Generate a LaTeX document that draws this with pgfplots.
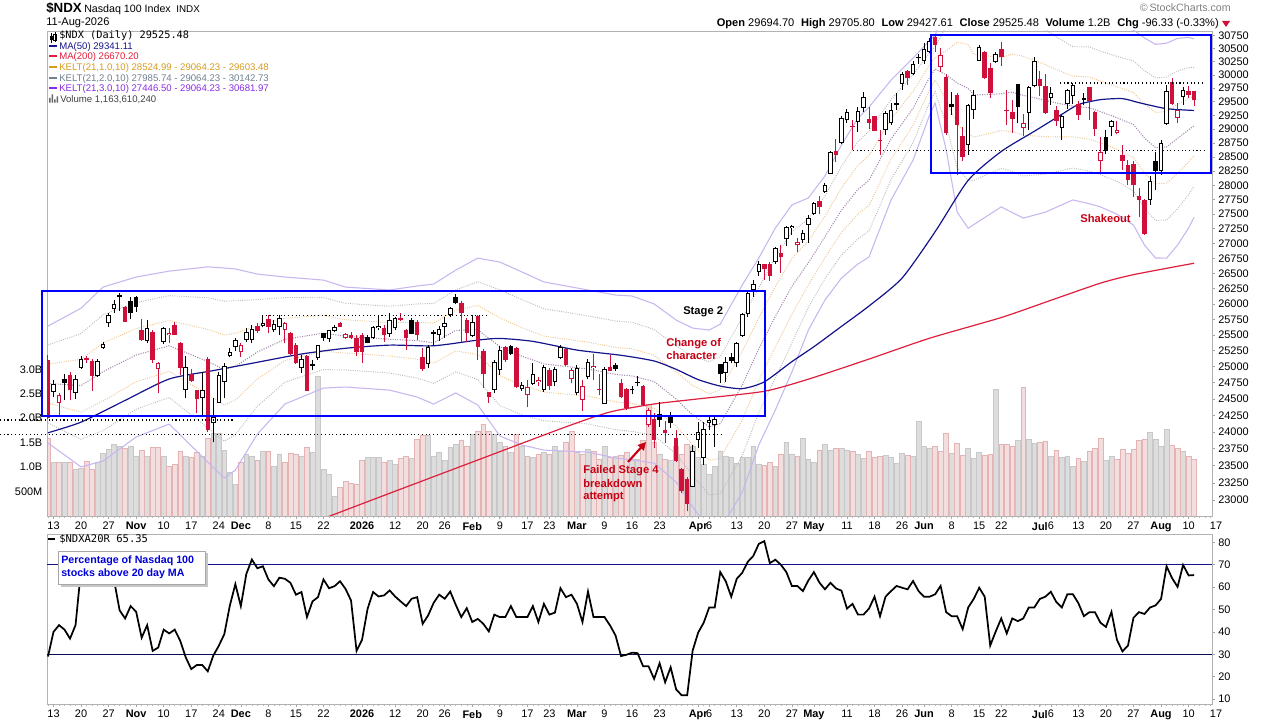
\documentclass[border=0pt]{standalone}
\usepackage{fontspec}
\setmainfont{Liberation Sans}
\newfontfamily\monofont{DejaVu Sans Mono}
\usepackage{pgfplots}
\usepackage{pgfplotstable}
\pgfplotsset{compat=1.18}
\usetikzlibrary{arrows.meta}
\definecolor{cred}{RGB}{206,16,58}
\definecolor{navyma}{RGB}{20,20,140}
\definecolor{ma200}{RGB}{222,30,60}
\definecolor{k1col}{RGB}{236,196,140}
\definecolor{k2col}{RGB}{185,185,185}
\definecolor{k3col}{RGB}{200,182,240}
\definecolor{midcol}{RGB}{165,135,175}
\definecolor{volgray}{RGB}{221,221,221}
\definecolor{volgrayE}{RGB}{200,200,200}
\definecolor{volpink}{RGB}{242,222,222}
\definecolor{volpinkE}{RGB}{228,180,180}
\definecolor{annred}{RGB}{200,0,20}
\definecolor{boxblue}{RGB}{0,0,255}
\definecolor{k1txt}{RGB}{214,155,30}
\definecolor{k2txt}{RGB}{112,128,144}
\definecolor{k3txt}{RGB}{138,43,226}

\pgfplotstableread{
i O H L C V t
0 25105 25179 24192 24207 1.58 3
1 24613 24793 24527 24732 1.09 0
2 24435 24588 24242 24562 1.09 2
3 24809 24887 24486 24743 1.09 1
4 24871 24922 24486 24639 1.09 3
5 24588 24871 24497 24809 0.96 0
6 24975 25168 24960 25121 0.98 0
7 25137 25168 25063 25105 1.11 3
8 25094 25116 24628 24855 0.96 3
9 24855 25116 24844 25094 1.09 0
10 25289 25393 25273 25352 1.28 0
11 25687 25848 25633 25821 1.37 0
12 25913 26064 25848 25994 1.47 0
13 26146 26173 25890 26108 1.42 1
14 25956 25967 25713 25713 1.38 3
15 26048 26118 25751 25848 1.42 1
16 26118 26129 25874 25956 1.23 1
17 25580 25751 25409 25420 1.35 3
18 25409 25740 25368 25607 1.23 0
19 25553 25580 25053 25105 1.40 3
20 24960 25078 24588 25053 1.40 2
21 25393 25623 25357 25607 1.22 0
22 25500 25607 25368 25537 1.01 2
23 25660 25713 25500 25500 1.06 3
24 25377 25393 24871 24975 1.32 3
25 24639 25168 24511 24991 1.23 0
26 24882 24960 24767 24783 1.19 3
27 24639 24639 24282 24497 1.31 3
28 24511 24922 24257 24639 1.22 0
29 25121 25147 24006 24031 1.58 3
30 24132 24511 23847 24222 1.69 0
31 24444 24922 24444 24871 1.69 0
32 24767 25053 24511 25011 1.34 0
33 25168 25289 25158 25236 0.89 0
34 25305 25446 25251 25420 0.65 0
35 25226 25368 25158 25341 1.09 2
36 25420 25607 25393 25553 1.27 0
37 25420 25660 25368 25591 1.23 0
38 25644 25697 25527 25569 1.13 3
39 25644 25821 25623 25697 1.32 0
40 25751 25821 25527 25633 1.32 3
41 25580 25740 25553 25676 1.01 0
42 25623 25821 25500 25767 1.27 0
43 25580 25713 25368 25687 1.09 2
44 25537 25553 25184 25200 1.29 3
45 25341 25368 25042 25053 1.27 3
46 24975 25184 24907 25116 1.23 0
47 25168 25184 24628 24628 1.40 3
48 25038 25105 24949 25016 1.30 1
49 25132 25341 25105 25341 2.85 0
50 25527 25537 25409 25446 0.96 1
51 25431 25580 25393 25580 0.85 0
52 25569 25660 25553 25633 0.40 0
53 25697 25713 25625 25625 0.58 3
54 25446 25537 25436 25516 0.71 2
55 25500 25553 25436 25446 0.67 3
56 25446 25500 25168 25236 0.65 3
57 25500 25527 25063 25226 1.13 3
58 25462 25500 25368 25368 1.19 1
59 25446 25644 25436 25623 1.19 0
60 25607 25821 25580 25644 1.19 0
61 25607 25660 25393 25500 1.10 3
62 25516 25848 25473 25740 1.13 0
63 25607 25784 25580 25767 1.06 0
64 25767 25858 25729 25740 1.18 3
65 25580 25591 25262 25446 1.23 3
66 25740 25767 25516 25516 1.18 1
67 25713 25740 25420 25500 1.57 3
68 25147 25289 24939 24960 1.64 3
69 25042 25341 24975 25315 1.64 0
70 25543 25580 25341 25516 1.23 1
71 25500 25644 25409 25591 1.31 0
72 25623 25784 25446 25697 1.13 0
73 25821 25956 25784 25929 1.40 0
74 26118 26162 25999 26010 1.47 1
75 26021 26053 25393 25858 1.54 3
76 25740 25767 25393 25527 1.43 3
77 25484 25821 25462 25713 1.67 0
78 25805 25821 25105 25315 1.74 3
79 25251 25273 24665 24887 1.88 3
80 24603 24603 24444 24535 1.74 3
81 24639 25105 24598 25078 1.67 0
82 24955 25330 24871 25268 1.50 0
83 25315 25330 25078 25105 1.43 3
84 25330 25341 25184 25200 1.30 1
85 25289 25315 24665 24680 1.67 3
86 24649 24767 24628 24716 1.43 0
87 24562 24793 24374 24690 1.23 2
88 24732 25053 24716 24882 1.20 0
89 24757 24844 24701 24793 1.26 2
90 24639 25027 24613 25000 1.30 0
91 24949 24975 24639 24701 1.26 3
92 24767 24991 24701 24960 1.43 0
93 25132 25341 25116 25315 1.33 0
94 25273 25289 25011 25027 1.50 3
95 24804 24975 24743 24949 1.74 2
96 24588 25027 24562 24975 1.30 0
97 24486 24793 24322 24701 1.26 2
98 24835 25116 24804 25078 1.37 0
99 24975 25200 24793 25011 1.33 2
100 24655 24887 24562 24639 1.16 3
101 24424 24991 24424 24960 1.43 0
102 24991 25184 24939 24939 1.20 3
103 25027 25053 24939 24960 1.23 1
104 24752 24804 24511 24527 1.24 3
105 24649 24665 24333 24359 1.30 3
106 24655 24701 24577 24639 1.16 1
107 24743 24855 24701 24767 1.16 0
108 24701 24716 24394 24409 1.54 3
109 24106 24359 24081 24333 2.29 2
110 24192 24282 23758 23881 1.50 3
111 24272 24459 24081 24182 1.27 1
112 24031 24172 23841 23991 1.16 3
113 24222 24306 24056 24141 1.13 1
114 23906 24031 23560 23575 1.43 3
115 23449 23463 23104 23128 1.27 3
116 23302 23340 22840 22946 1.47 3
117 23196 23807 23186 23723 1.43 0
118 23881 24157 23758 24006 1.20 0
119 23617 24157 23512 24041 1.06 0
120 24141 24257 24031 24182 0.85 0
121 24106 24242 23772 24192 1.02 0
122 25042 25042 24742 24887 1.33 1
123 24907 25158 24767 25078 1.22 0
124 25158 25210 25053 25094 1.20 1
125 25053 25393 24991 25368 1.08 0
126 25484 25858 25473 25837 1.20 0
127 25837 26200 25794 26184 1.20 0
128 26227 26392 26109 26321 1.43 0
129 26529 26707 26458 26657 1.06 0
130 26657 26657 26392 26568 1.04 3
131 26657 26695 26380 26458 1.09 3
132 26695 26946 26657 26920 1.02 0
133 26846 26975 26512 26768 1.27 3
134 27071 27297 26958 27285 1.50 0
135 27258 27314 27144 27297 1.27 0
136 26975 27088 26863 27031 1.23 2
137 27059 27229 27014 27183 1.58 0
138 27314 27485 27014 27428 1.16 0
139 27502 27716 27485 27687 1.09 0
140 27733 27814 27502 27630 1.35 3
141 27877 28045 27866 28005 1.47 0
142 28205 28612 28193 28583 1.35 0
143 28612 28821 28416 28535 1.39 3
144 28744 29233 28732 29209 1.39 0
145 29165 29362 29108 29318 1.35 0
146 29057 29165 28625 29045 1.32 3
147 29135 29410 28955 29337 1.26 0
148 29395 29688 29318 29596 1.18 0
149 29189 29406 29002 29110 1.32 3
150 29233 29233 28973 28973 1.20 3
151 28798 28991 28540 28787 1.22 3
152 28991 29330 28903 29299 1.24 0
153 29110 29480 29078 29355 1.20 0
154 29467 29663 29355 29449 1.07 1
155 29834 30055 29724 30023 1.28 0
156 30083 30101 29816 29943 1.24 3
157 30010 30261 29998 30211 1.22 0
158 30323 30386 30211 30311 1.93 1
159 30270 30605 30211 30494 1.42 0
160 30435 30698 30416 30636 1.38 0
161 30712 30775 30435 30558 1.42 3
162 30155 30509 30063 30378 1.32 2
163 29962 30025 28903 28934 1.69 3
164 29467 29682 29262 29404 1.28 1
165 29619 29663 28187 29068 1.48 3
166 28870 29034 28424 28494 1.24 3
167 28708 29458 28540 29434 1.38 0
168 29355 29724 29189 29619 1.18 0
169 30270 30557 30261 30526 1.30 0
170 30435 30460 29931 29944 1.24 3
171 30137 30217 29570 29663 1.26 3
172 30245 30430 30226 30393 2.59 0
173 30494 30622 30168 30332 1.46 3
174 29355 29724 29078 29337 1.46 3
175 29312 29541 28934 29189 1.42 3
176 29829 29829 29110 29414 1.54 1
177 29021 29275 28870 29110 2.63 2
178 29299 29798 28991 29766 1.56 0
179 29784 30336 29766 30261 1.48 0
180 29916 30071 29616 29784 1.50 3
181 29784 30010 29275 29299 1.52 3
182 29570 29766 29449 29663 1.22 0
183 29355 29420 29050 29152 1.34 3
184 29021 29275 28798 29233 1.20 0
185 29458 29742 29373 29724 1.22 0
186 29611 29858 29458 29816 1.01 0
187 29458 29518 29170 29252 1.18 3
188 29570 29663 29434 29537 1.11 1
189 29766 29766 29170 29509 1.32 3
190 29312 29330 28870 29008 1.38 3
191 28435 28857 28216 28589 1.58 2
192 28857 28991 28553 28600 1.13 1
193 29034 29170 28870 29142 1.22 0
194 28934 29152 28911 28980 1.15 2
195 28540 28708 28274 28435 1.36 3
196 28363 28452 28011 28098 1.28 3
197 28376 28435 27796 28011 1.36 3
198 27808 27953 27450 27750 1.54 3
199 27752 27770 27150 27161 1.56 3
200 27750 28158 27664 28081 1.71 0
201 28435 28589 27923 28257 1.56 1
202 28257 28814 28187 28756 1.42 0
203 29092 29807 29080 29706 1.77 0
204 29859 29950 29434 29458 1.44 3
205 29209 29480 29110 29355 1.38 2
206 29587 29766 29449 29718 1.32 0
207 29706 29785 29564 29621.81 1.22 3
208 29694.70 29705.80 29427.61 29525.48 1.16 3
}\ohlc

\pgfplotstableread{
i mid k1u k1l k2u k2l k3u k3l
0 24740 25041 24439 25342 24138 25643 23837
6 24708 25116 24300 25524 23892 25932 23484
10 24924 25375 24473 25826 24022 26277 23571
16 25184 25603 24765 26022 24346 26441 23927
22 25330 25733 24927 26136 24524 26539 24121
29 25082 25591 24573 26100 24064 26609 23555
32 24956 25501 24411 26046 23866 26591 23321
34 25006 25529 24483 26052 23960 26575 23437
38 25231 25651 24811 26071 24391 26491 23971
43 25433 25769 25097 26105 24761 26441 24425
50 25530 25817 25243 26104 24956 26391 24669
54 25480 25745 25215 26010 24950 26275 24685
62 25433 25698 25168 25963 24903 26228 24638
67 25412 25706 25118 26000 24824 26294 24530
70 25375 25692 25058 26009 24741 26326 24424
74 25575 25902 25248 26229 24921 26556 24594
78 25583 25974 25192 26365 24801 26756 24410
82 25316 25774 24858 26232 24400 26690 23942
86 25166 25619 24713 26072 24260 26525 23807
90 25046 25484 24608 25922 24170 26360 23732
98 24965 25386 24544 25807 24123 26228 23702
103 24880 25302 24458 25724 24036 26146 23614
106 24858 25282 24434 25706 24010 26130 23586
110 24770 25180 24360 25590 23950 26000 23540
114 24502 24915 24089 25328 23676 25741 23263
117 24258 24709 23807 25160 23356 25611 22905
120 24079 24579 23579 25079 23079 25579 22579
122 24126 24642 23610 25158 23094 25674 22578
126 24714 25246 24182 25778 23650 26310 23118
129 25282 25774 24790 26266 24298 26758 23806
132 25798 26286 25310 26774 24822 27262 24334
135 26288 26745 25831 27202 25374 27659 24917
138 26680 27047 26313 27414 25946 27781 25579
141 27114 27464 26764 27814 26414 28164 26064
144 27570 27952 27188 28334 26806 28716 26424
147 27930 28354 27506 28778 27082 29202 26658
149 28089 28527 27651 28965 27213 29403 26775
153 28824 29184 28464 29544 28104 29904 27744
157 29382 29694 29070 30006 28758 30318 28446
160 29956 30189 29723 30422 29490 30655 29257
161 30113 30325 29901 30537 29689 30749 29477
163 30000 30456 29544 30912 29088 31368 28632
165 29850 30621 29079 31392 28308 32163 27537
167 29750 30580 28920 31410 28090 32240 27260
168 29625 30393 28857 31161 28089 31929 27321
173 29650 30325 28975 31000 28300 31675 27625
175 29680 30397 28963 31114 28246 31831 27529
177 29620 30349 28891 31078 28162 31807 27433
181 29530 30195 28865 30860 28200 31525 27535
183 29480 30100 28860 30720 28240 31340 27620
186 29420 29978 28862 30536 28304 31094 27746
189 29390 29960 28820 30530 28250 31100 27680
191 29320 29885 28755 30450 28190 31015 27625
194 29210 29780 28640 30350 28070 30920 27500
197 29083 29673 28493 30263 27903 30853 27313
199 28838 29459 28217 30080 27596 30701 26975
201 28669 29306 28032 29943 27395 30580 26758
203 28679 29320 28038 29961 27397 30602 26756
205 28834 29454 28214 30074 27594 30694 26974
207 28988 29563 28413 30138 27838 30713 27263
208 29064.23 29603.48 28524.99 30142.73 27985.74 30681.97 27446.50
}\kelt

\pgfplotstableread{
i ma
48 22680
62 23100
78 23585
94 24080
102 24303
110 24425
118 24503
130 24620
138 24806
149 25120
160 25450
173 25780
182 26060
191 26340
197 26480
208 26670.2
}\mattwo

\pgfplotstableread{
i ma
0 23990
6 24150
14 24480
22 24810
30 24940
38 25070
46 25200
54 25290
62 25340
70 25330
78 25420
82 25446
88 25400
96 25262
104 25180
110 25090
114 24960
118 24800
122 24700
126 24660
130 24765
135 25080
139 25315
144 25639
149 25967
155 26424
161 27200
167 28089
173 28600
179 28963
184 29270
187 29450
191 29540
195 29560
198 29485
203 29375
208 29341.11
}\mafifty

\pgfplotstableread{
i v
0 29
1 40
2 43
3 41
4 37
5 43
6 68
7 72
8 74
9 73
10 71
11 67
12 63
13 49.6
14 46
15 51.5
16 49
17 37.4
18 43
19 31.5
20 33
21 41
22 39.3
23 41
24 36
25 28.6
26 23.4
27 25.2
28 25.2
29 22.4
30 29.4
31 33.8
32 39
33 51.7
34 61.3
35 51.5
36 65.9
37 72.3
38 68.4
39 69.3
40 63.4
41 60.4
42 64.2
43 63.7
44 61.9
45 56.6
46 57.8
47 46.6
48 53.6
49 55.5
50 63.4
51 59.5
52 60.4
53 62.6
54 59.2
55 54
56 31.5
57 36.5
58 50.3
59 57.8
60 55.8
61 56.3
62 58.5
63 55.8
64 53.6
65 51.5
66 54.8
67 55.5
68 43.6
69 47.4
70 53
71 56.6
72 54.8
73 58
74 52.1
75 46.6
76 50.6
77 44.4
78 45.8
79 43.6
80 40.2
81 47.7
82 46.6
83 46.6
84 51.5
85 46.6
86 46.6
87 46.6
88 51.5
89 44.4
90 52.5
91 47.7
92 48.6
93 59.5
94 55.5
95 56.6
96 52.5
97 44.4
98 58
99 46.6
100 46.6
101 46.6
102 42.9
103 38.4
104 29.2
105 29.8
106 30.7
107 30.5
108 24.7
109 24.6
110 19
111 26
112 17.5
113 24.2
114 14.3
115 11.7
116 11.7
117 31.7
118 39.7
119 44.1
120 50.9
121 50.9
122 66.7
123 62.6
124 55.7
125 63.7
126 66.4
127 71.3
128 73.9
129 79.3
130 80.5
131 70.7
132 72.2
133 70
134 66.7
135 60.5
136 60.5
137 58.2
138 63
139 66.7
140 62
141 59
142 61.9
143 59.4
144 58.4
145 50.4
146 52.5
147 47.7
148 47.7
149 50.4
150 55.7
151 47
152 55.7
153 58.2
154 60.5
155 59.7
156 59
157 62.7
158 58.2
159 55.7
160 55.7
161 56.8
162 60.5
163 48.8
164 47
165 47
166 41.2
167 50.9
168 54.7
169 59.7
170 55.7
171 33.9
172 40.2
173 46
174 39.3
175 46
176 44.8
177 46
178 50.9
179 50.9
180 54.7
181 55.7
182 57.9
183 53.3
184 50.9
185 56.8
186 56.8
187 52.8
188 47
189 48.8
190 48.8
191 44.1
192 42.2
193 48.9
194 36.4
195 31.3
196 33.9
197 46.3
198 48.8
199 48
200 50.9
201 51.8
202 54.7
203 69.3
204 64
205 60.1
206 69.9
207 65.2
208 65.35
}\breadth

\pgfplotsset{
  candlebar/.style 2 args={draw=none, mark=none, forget plot,
    error bars/y dir=plus, error bars/y explicit, error bars/error mark=none,
    error bars/error bar style={line width=#2, draw=#1, color=#1, line cap=butt}},
  datex/.style={xmin=-0.18, xmax=211.25,
    xtick={1,6,11,16,21,26,31,35,40,45,50,57,63,68,72,77,82,87,91,96,101,106,111,118,120,125,130,135,139,145,150,155,159,164,169,173,180,182,187,192,197,202,207},
    xticklabels={13,20,27,\textbf{Nov},10,17,24,\textbf{Dec},8,15,22,\textbf{2026},12,20,26,\textbf{Feb},9,17,23,\textbf{Mar},9,16,23,\textbf{Apr},6,13,20,27,\textbf{May},11,18,26,\textbf{Jun},8,15,22,\textbf{Jul},6,13,20,27,\textbf{Aug},10},
    minor xtick={0,1,...,211},
    xtick pos=bottom, tick align=outside,
    major tick length=2.2pt, minor tick length=1.5pt,
    tick style={draw=gray!70, line width=0.5pt},
    minor tick style={draw=gray!55, line width=0.4pt},
    xticklabel style={font=\fontsize{8.2}{9}\selectfont, yshift=1pt}},
}

\begin{document}
\begin{tikzpicture}[x=0.75pt,y=0.75pt]
\useasboundingbox (0,0) rectangle (1280,720);

% ---------- volume (behind) ----------
\begin{axis}[at={(35.25pt,153pt)}, anchor=south west, scale only axis,
  width=873.75pt, height=363.75pt,
  xmin=-0.18, xmax=211.25, ymin=0, ymax=9.92,
  axis line style={draw=none}, xtick=\empty,
  ytick={0.5,1,1.5,2,2.5,3}, yticklabels={500M,1.0B,1.5B,2.0B,2.5B,3.0B},
  ytick pos=left, major tick length=0pt,
  yticklabel style={font=\fontsize{8.2}{9}\selectfont}]
\addplot[ybar, bar width=3.6pt, bar shift=0pt, fill=volgray, draw=volgrayE, line width=0.5pt,
  restrict expr to domain={\thisrow{t}}{-0.5:1.5}] table[x=i,y=V]{\ohlc};
\addplot[ybar, bar width=3.6pt, bar shift=0pt, fill=volpink, draw=volpinkE, line width=0.5pt,
  restrict expr to domain={\thisrow{t}}{1.5:3.5}] table[x=i,y=V]{\ohlc};
\end{axis}

% ---------- price (log scale: y = ln(price)) ----------
\begin{axis}[at={(35.25pt,153pt)}, anchor=south west, scale only axis,
  width=873.75pt, height=363.75pt, datex,
  ymin=10.033374, ymax=10.336340,
  axis line style={draw=gray!60, line width=0.6pt},
  ytick={10.043249,10.054060,10.064755,10.075340,10.085809,10.096172,10.106428,10.116580,10.126631,10.136581,10.146433,10.156189,10.165851,10.175421,10.184900,10.194290,10.203592,10.212808,10.221941,10.230991,10.239959,10.248848,10.257659,10.266393,10.275051,10.283634,10.292145,10.300584,10.308953,10.317251,10.325482,10.333645},
  yticklabels={23000,23250,23500,23750,24000,24250,24500,24750,25000,25250,25500,25750,26000,26250,26500,26750,27000,27250,27500,27750,28000,28250,28500,28750,29000,29250,29500,29750,30000,30250,30500,30750},
  yminorticks=false, ytick pos=right, yticklabel pos=right,
  scaled y ticks=false,
  yticklabel style={font=\fontsize{8.2}{9}\selectfont, xshift=-1pt}]
% Keltner channels
\addplot[k3col, line width=0.8pt] table[x=i,y expr=ln(\thisrow{k3u})]{\kelt};
\addplot[k3col, line width=0.8pt] table[x=i,y expr=ln(\thisrow{k3l})]{\kelt};
\addplot[k2col, densely dotted, line width=0.7pt] table[x=i,y expr=ln(\thisrow{k2u})]{\kelt};
\addplot[k2col, densely dotted, line width=0.7pt] table[x=i,y expr=ln(\thisrow{k2l})]{\kelt};
\addplot[k1col, densely dotted, line width=0.7pt] table[x=i,y expr=ln(\thisrow{k1u})]{\kelt};
\addplot[k1col, densely dotted, line width=0.7pt] table[x=i,y expr=ln(\thisrow{k1l})]{\kelt};
\addplot[midcol, densely dotted, line width=0.8pt] table[x=i,y expr=ln(\thisrow{mid})]{\kelt};
% moving averages
\addplot[ma200, line width=0.9pt, smooth, tension=0.4] table[x=i,y expr=ln(\thisrow{ma})]{\mattwo};
\addplot[navyma, line width=0.9pt, smooth, tension=0.4] table[x=i,y expr=ln(\thisrow{ma})]{\mafifty};
% wicks
\addplot[restrict expr to domain={\thisrow{t}}{-0.5:1.5}, candlebar={black}{0.75pt}] table[x=i, y expr=ln(\thisrow{L}), y error expr=ln(\thisrow{H})-ln(\thisrow{L})]{\ohlc};
\addplot[restrict expr to domain={\thisrow{t}}{1.5:3.5}, candlebar={cred}{0.75pt}] table[x=i, y expr=ln(\thisrow{L}), y error expr=ln(\thisrow{H})-ln(\thisrow{L})]{\ohlc};
% bodies: outline / fill
\addplot[restrict expr to domain={\thisrow{t}}{-0.5:1.5}, candlebar={black}{3.4pt}] table[x=i, y expr={ln(min(\thisrow{O},\thisrow{C}))}, y error expr={max(abs(ln(\thisrow{C})-ln(\thisrow{O})),0.0007)}]{\ohlc};
\addplot[restrict expr to domain={\thisrow{t}}{1.5:3.5}, candlebar={cred}{3.4pt}] table[x=i, y expr={ln(min(\thisrow{O},\thisrow{C}))}, y error expr={max(abs(ln(\thisrow{C})-ln(\thisrow{O})),0.0007)}]{\ohlc};
% hollow interiors (t=0 and t=2)
\addplot[restrict expr to domain={\thisrow{t}}{-0.5:0.5}, candlebar={white}{1.9pt}] table[x=i, y expr={ln(min(\thisrow{O},\thisrow{C}))+0.00065}, y error expr={max(abs(ln(\thisrow{C})-ln(\thisrow{O}))-0.0013,0)}]{\ohlc};
\addplot[restrict expr to domain={\thisrow{t}}{1.5:2.5}, candlebar={white}{1.9pt}] table[x=i, y expr={ln(min(\thisrow{O},\thisrow{C}))+0.00065}, y error expr={max(abs(ln(\thisrow{C})-ln(\thisrow{O}))-0.0013,0)}]{\ohlc};
\end{axis}

% ---------- lower panel ----------
\begin{axis}[at={(35.25pt,12pt)}, anchor=south west, scale only axis,
  width=873.75pt, height=127.5pt, datex,
  ymin=7.8, ymax=83.7, ytick={10,20,30,40,50,60,70,80},
  yticklabels={10,20,30,40,50,60,70,80},
  ytick pos=right, yticklabel pos=right, yminorticks=false,
  axis line style={draw=gray!60, line width=0.6pt},
  yticklabel style={font=\fontsize{8.2}{9}\selectfont, xshift=-1pt}]
\addplot[navyma, line width=0.8pt] coordinates {(-1,70) (212,70)};
\addplot[navyma!60!black, line width=0.8pt] coordinates {(-1,30) (212,30)};
\addplot[black, line width=1.3pt] table[x=i,y=v]{\breadth};
\end{axis}

% date label just beyond the plotted range
\node[font=\fontsize{8.2}{9}\selectfont, anchor=base] at (1216,190.5) {17};
\node[font=\fontsize{8.2}{9}\selectfont, anchor=base] at (1216,2.5) {17};

% ---------- annotations ----------
\draw[black, dotted, line width=0.8pt] (0,300) -- (233,300);
\draw[black, dotted, line width=0.8pt] (0,285.7) -- (722,285.7);
\draw[black, dotted, line width=0.8pt] (262,404.7) -- (487,404.7);
\draw[black, dotted, line width=0.8pt] (1060,637) -- (1205,637);
\draw[black, dotted, line width=0.8pt] (853,569.5) -- (1205,569.5);
\draw[boxblue, line width=1.9pt] (42,429) rectangle (765,304);
\draw[boxblue, line width=1.9pt] (931,685) rectangle (1211,547);

\node[anchor=base west, inner sep=0, font=\fontsize{8.4}{9}\selectfont\bfseries] at (683,405) {Stage 2};
\node[anchor=base west, inner sep=0, font=\fontsize{8.4}{9}\selectfont\bfseries, text=annred] at (666,373.3) {Change of};
\node[anchor=base west, inner sep=0, font=\fontsize{8.4}{9}\selectfont\bfseries, text=annred] at (666,360.7) {character};
\node[anchor=base west, inner sep=0, font=\fontsize{8.4}{9}\selectfont\bfseries, text=annred] at (583,246) {Failed Stage 4};
\node[anchor=base west, inner sep=0, font=\fontsize{8.4}{9}\selectfont\bfseries, text=annred] at (583,232.7) {breakdown};
\node[anchor=base west, inner sep=0, font=\fontsize{8.4}{9}\selectfont\bfseries, text=annred] at (583,220) {attempt};
\node[anchor=base west, inner sep=0, font=\fontsize{8.4}{9}\selectfont\bfseries, text=annred] at (1080,497) {Shakeout};
\draw[annred, line width=1.6pt, -{Triangle[length=6pt,width=6pt]}] (628,258) -- (646,278);

% header
\node[anchor=base west, inner sep=0, font=\fontsize{10}{12}\selectfont\bfseries] at (46,707) {\$NDX};
\node[anchor=base west, inner sep=0, font=\fontsize{8}{9}\selectfont] at (84,707) {Nasdaq 100 Index};
\node[anchor=base west, inner sep=0, font=\fontsize{7.4}{9}\selectfont] at (176,707) {INDX};
\node[anchor=base west, inner sep=0, font=\fontsize{8.3}{9}\selectfont] at (46,694) {11-Aug-2026};
\node[anchor=base east, inner sep=0, font=\fontsize{8}{9}\selectfont, text=gray] at (1231,708) {\textcopyright\,StockCharts.com};
\node[anchor=base east, inner sep=0, font=\fontsize{8.3}{9}\selectfont] at (1219,693)
  {\textbf{Open} 29694.70\hspace{5pt}\textbf{High} 29705.80\hspace{5pt}\textbf{Low} 29427.61\hspace{5pt}\textbf{Close} 29525.48\hspace{5pt}\textbf{Volume} 1.2B\hspace{5pt}\textbf{Chg} -96.33 (-0.33\%)};
\fill[cred] (1222,699) -- (1230,699) -- (1226,693) -- cycle;

% legend main
\draw[black, line width=0.6pt] (51,677) -- (51,687); \fill[black] (50,679.5) rectangle (52.5,684);
\draw[black, line width=0.6pt] (55,678) -- (55,688); \draw[black, line width=0.5pt] (53.8,680) rectangle (56.3,685.5);
\node[anchor=base west, inner sep=0, font=\monofont\fontsize{7.7}{9}\selectfont] at (59,681.7) {\$NDX (Daily) 29525.48};
\draw[navyma, line width=1.5pt] (49,674.2) -- (57,674.2);
\node[anchor=base west, inner sep=0, font=\fontsize{7.2}{9}\selectfont, text=navyma] at (59,670.7) {MA(50) 29341.11};
\draw[ma200, line width=1.5pt] (49,663.5) -- (57,663.5);
\node[anchor=base west, inner sep=0, font=\fontsize{7.2}{9}\selectfont, text=ma200] at (59,660) {MA(200) 26670.20};
\draw[k1txt, line width=1.5pt] (49,652.8) -- (57,652.8);
\node[anchor=base west, inner sep=0, font=\fontsize{7.2}{9}\selectfont, text=k1txt] at (59,649.3) {KELT(21,1.0,10) 28524.99 - 29064.23 - 29603.48};
\draw[k2txt, line width=1.5pt] (49,642.2) -- (57,642.2);
\node[anchor=base west, inner sep=0, font=\fontsize{7.2}{9}\selectfont, text=k2txt] at (59,638.7) {KELT(21,2.0,10) 27985.74 - 29064.23 - 30142.73};
\draw[k3txt, line width=1.5pt] (49,631.5) -- (57,631.5);
\node[anchor=base west, inner sep=0, font=\fontsize{7.2}{9}\selectfont, text=k3txt] at (59,628) {KELT(21,3.0,10) 27446.50 - 29064.23 - 30681.97};
\fill[gray!80!black] (49,617.3) rectangle (50.6,622) (51.5,617.3) rectangle (53.1,625.5) (54,617.3) rectangle (55.6,620.5) (56.5,617.3) rectangle (58.1,623.5);
\node[anchor=base west, inner sep=0, font=\fontsize{7.2}{9}\selectfont, text=black!75] at (60,617.3) {Volume 1,163,610,240};

% legend lower
\draw[black, line width=1.5pt] (48,180.5) -- (55,180.5);
\node[anchor=base west, inner sep=0, font=\monofont\fontsize{7.9}{9}\selectfont] at (59,177) {\$NDXA20R 65.35};
\fill[gray!45] (60.5,133) rectangle (207.5,166.5);
\filldraw[fill=white, draw=gray!70, line width=0.6pt] (58,135.5) rectangle (205,169);
\node[anchor=base west, inner sep=0, font=\fontsize{8}{9}\selectfont\bfseries, text=boxblue!85!black] at (61,156) {Percentage of Nasdaq 100};
\node[anchor=base west, inner sep=0, font=\fontsize{8}{9}\selectfont\bfseries, text=boxblue!85!black] at (61,143.5) {stocks above 20 day MA};
\end{tikzpicture}
\end{document}
